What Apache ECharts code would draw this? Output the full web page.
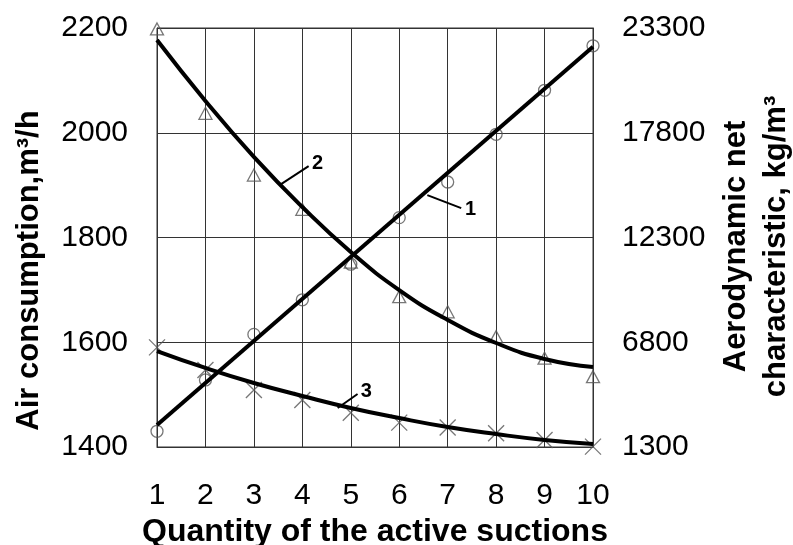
<!DOCTYPE html>
<html>
<head>
<meta charset="utf-8">
<script src="https://cdn.jsdelivr.net/npm/echarts@6/dist/echarts.min.js"></script>
<style>
html, body { margin: 0; padding: 0; background: #fff; }
#airChart { width: 793px; height: 545px; }
</style>
</head>
<body>
<div id="airChart"></div>
<script>
// quantity of the active suctions
const suctions = [1, 2, 3, 4, 5, 6, 7, 8, 9, 10]
// tick labels
const airTicks = [1400, 1600, 1800, 2000, 2200]
const aeroTicks = [1300, 6800, 12300, 17800, 23300]

// curve 1: air consumption, m3/h (circles + straight trend)
const airPoints = [1430, 1528, 1615, 1681, 1749, 1838, 1906, 1997, 2081, 2166]
const airTrend = [[1, 1442], [10, 2164]]
// curve 2: aerodynamic net characteristic (triangles)
const aeroPoints = [23250, 18820, 15580, 13780, 11010, 9190, 8400, 7090, 5960, 4990]
const aeroTrend = [22670, 19470, 16530, 13900, 11540, 9540, 7970, 6760, 5920, 5500]
// curve 3 (crosses)
const thirdPoints = [6530, 5340, 4290, 3770, 3100, 2580, 2320, 2020, 1670, 1320]
const thirdTrend = [6340, 5450, 4660, 3980, 3350, 2820, 2350, 1980, 1670, 1460]

const font = 'Liberation Sans, Arial, sans-serif'
const gridColor = '#333'

function pairs (xs, ys) {
  return xs.map((x, i) => [x, ys[i]])
}

// leader line with curve number at its end
function leader (from, to, text) {
  return [
    { coord: from },
    {
      coord: to,
      label: {
        show: true,
        position: 'end',
        formatter: text,
        color: '#000',
        fontFamily: font,
        fontWeight: 'bold',
        fontSize: 20,
        distance: 4
      }
    }
  ]
}

function markerStyle () {
  return { color: 'transparent', borderColor: '#555', borderWidth: 1.3 }
}

const chart = echarts.init(document.getElementById('airChart'))

const option = {
  animation: false,
  backgroundColor: '#fff',
  grid: {
    left: 157,
    right: 200,
    top: 28,
    bottom: 98,
    containLabel: false,
    outerBoundsMode: 'none',
    show: true,
    borderColor: gridColor,
    borderWidth: 1
  },
  xAxis: {
    type: 'value',
    min: 1,
    max: 10,
    interval: 1,
    name: 'Quantity of the active suctions',
    nameLocation: 'middle',
    nameGap: 65,
    nameTextStyle: { fontFamily: font, fontWeight: 'bold', fontSize: 32, color: '#000' },
    axisLine: { show: true, lineStyle: { color: gridColor, width: 1 } },
    axisTick: { show: false },
    axisLabel: { fontFamily: font, fontSize: 30, color: '#000', margin: 34 },
    splitLine: { show: true, lineStyle: { color: gridColor, width: 1 } }
  },
  yAxis: [
    {
      type: 'value',
      position: 'left',
      min: 1400,
      max: 2200,
      interval: 200,
      name: 'Air consumption,m³/h',
      nameLocation: 'middle',
      nameGap: 112,
      nameTextStyle: {
        fontFamily: font, fontWeight: 'bold', fontSize: 31, color: '#000',
        padding: [0, 66, 0, 0]
      },
      axisLine: { show: true, lineStyle: { color: gridColor, width: 1 } },
      axisTick: { show: false },
      axisLabel: {
        fontFamily: font, fontSize: 30, color: '#000', margin: 29,
        customValues: airTicks,
        formatter: v => String(v)
      },
      splitLine: { show: true, lineStyle: { color: gridColor, width: 1 } }
    },
    {
      type: 'value',
      position: 'right',
      min: 1300,
      max: 23300,
      name: 'Aerodynamic net\ncharacteristic, kg/m³',
      nameLocation: 'middle',
      nameRotate: 90,
      nameGap: 122,
      nameTextStyle: {
        fontFamily: font, fontWeight: 'bold', fontSize: 31, color: '#000',
        lineHeight: 40,
        padding: [0, 18, 0, 0]
      },
      axisLine: { show: true, lineStyle: { color: gridColor, width: 1 } },
      axisTick: { show: false },
      axisLabel: {
        fontFamily: font, fontSize: 30, color: '#000', margin: 29,
        customValues: aeroTicks,
        formatter: v => String(v)
      },
      splitLine: { show: false }
    }
  ],
  series: [
    {
      name: 'air points',
      type: 'scatter',
      yAxisIndex: 0,
      symbol: 'circle',
      symbolSize: 12,
      itemStyle: markerStyle(),
      data: pairs(suctions, airPoints)
    },
    {
      name: 'aero points',
      type: 'scatter',
      yAxisIndex: 1,
      symbol: 'triangle',
      symbolSize: [13, 12],
      itemStyle: markerStyle(),
      data: pairs(suctions, aeroPoints)
    },
    {
      name: 'third points',
      type: 'scatter',
      yAxisIndex: 1,
      symbol: 'path://M0,0L10,10M10,0L0,10',
      symbolSize: 16,
      itemStyle: markerStyle(),
      data: pairs(suctions, thirdPoints)
    },
    {
      name: 'air trend',
      type: 'line',
      yAxisIndex: 0,
      showSymbol: false,
      lineStyle: { color: '#000', width: 4 },
      data: airTrend,
      markLine: {
        silent: true,
        symbol: ['none', 'none'],
        lineStyle: { color: '#000', width: 2, type: 'solid' },
        data: [leader([6.58, 1881], [7.28, 1856], '1')]
      }
    },
    {
      name: 'aero trend',
      type: 'line',
      yAxisIndex: 1,
      smooth: 0.5,
      showSymbol: false,
      lineStyle: { color: '#000', width: 4 },
      data: pairs(suctions, aeroTrend),
      markLine: {
        silent: true,
        symbol: ['none', 'none'],
        lineStyle: { color: '#000', width: 2, type: 'solid' },
        data: [leader([3.53, 15050], [4.13, 16050], '2')]
      }
    },
    {
      name: 'third trend',
      type: 'line',
      yAxisIndex: 1,
      smooth: 0.5,
      showSymbol: false,
      lineStyle: { color: '#000', width: 4 },
      data: pairs(suctions, thirdTrend),
      markLine: {
        silent: true,
        symbol: ['none', 'none'],
        lineStyle: { color: '#000', width: 2, type: 'solid' },
        data: [leader([4.73, 3350], [5.14, 4080], '3')]
      }
    }
  ]
}

chart.setOption(option)
</script>
</body>
</html>
